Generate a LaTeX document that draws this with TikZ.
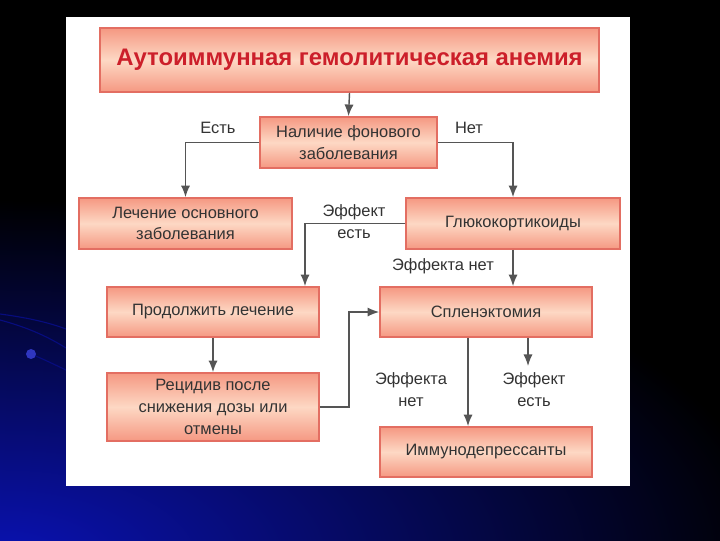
\documentclass[tikz,border=0pt]{standalone}
\usepackage{fontspec}
\setmainfont{Liberation Sans}
\usetikzlibrary{positioning,arrows.meta,calc}
\definecolor{boxborder}{HTML}{E36E62}
\definecolor{boxouter}{HTML}{F59882}
\definecolor{boxinner}{HTML}{FDD8C4}
\definecolor{titlered}{HTML}{CC1F2A}
\definecolor{txtgray}{HTML}{333333}
\definecolor{arrgray}{HTML}{555555}
\definecolor{bgblue}{HTML}{0A12B4}

\begin{document}
\begin{tikzpicture}[x=0.025cm,y=-0.025cm,font=\fontsize{11.7}{15.5}\selectfont,
  fbox/.style={draw=boxborder,line width=1.2pt,top color=boxouter,
    bottom color=boxouter,middle color=boxinner,align=center,
    text=txtgray,inner sep=2pt},
  lbl/.style={text=txtgray,align=center,inner sep=1pt},
  arr/.style={draw=arrgray,line width=1pt,-{Latex[length=2.9mm,width=2.3mm]}}]

% slide background
\useasboundingbox (0,0) rectangle (720,540);
\fill[black] (0,0) rectangle (720,540);
\begin{scope}
  \clip (0,0) rectangle (720,540);
  \shade[inner color=bgblue,outer color=black] (0,560) ellipse (780 and 360);
  \draw[bgblue!70!black,line width=0.8pt] (0,314) .. controls (30,318) and (50,323) .. (66,329);
  \draw[bgblue!70!black,line width=0.8pt] (0,320) .. controls (30,328) and (50,338) .. (66,348);
  \draw[bgblue!70!black,line width=0.8pt] (31,354) .. controls (45,360) .. (66,370);
  \fill[bgblue!85] (31,354) circle (5);
\end{scope}
\fill[white] (66,17) rectangle (630,486);

% boxes
\node[fbox,minimum width=12.475cm,minimum height=1.6cm,
      font=\fontsize{17}{20}\selectfont\bfseries,text=titlered]
      (title) at (349.5,60) {Аутоиммунная гемолитическая анемия};
\node[fbox,minimum width=4.425cm,minimum height=1.275cm]
      (nalich) at (348.5,142.5) {Наличие фонового\\заболевания};
\node[fbox,minimum width=5.325cm,minimum height=1.275cm]
      (lech) at (185.5,223.5) {Лечение основного\\заболевания};
\node[fbox,minimum width=5.35cm,minimum height=1.275cm]
      (gluko) at (513,223.5) {Глюкокортикоиды};
\node[fbox,minimum width=5.3cm,minimum height=1.25cm]
      (prodol) at (213,312) {Продолжить лечение};
\node[fbox,minimum width=5.3cm,minimum height=1.25cm]
      (splen) at (486,312) {Спленэктомия};
\node[fbox,minimum width=5.3cm,minimum height=1.7cm]
      (recid) at (213,407) {Рецидив после\\снижения дозы или\\отмены};
\node[fbox,minimum width=5.3cm,minimum height=1.25cm]
      (immun) at (486,452) {Иммунодепрессанты};

% labels
\node[lbl] (yes1) at (218,128) {Есть};
\node[lbl] (no1) at (469,128) {Нет};
\node[lbl] (eff1) at (354,222) {Эффект\\есть};
\node[lbl] (noeff1) at (443,266) {Эффекта нет};
\node[lbl] (noeff2) at (411,390) {Эффекта\\нет};
\node[lbl] (eff2) at (534,390) {Эффект\\есть};

\coordinate (effend) at (528,366);

% connectors
\draw[arr] (title.south) -- (nalich.north);
\draw[arr] (nalich.west) -| (lech.north);
\draw[arr] (nalich.east) -| (gluko.north);
\draw[arr] (gluko.west) -| ($(prodol.north)+(92,0)$);
\draw[arr] (gluko.south) -- (gluko.south |- splen.north);
\draw[arr] (prodol.south) -- (recid.north);
\draw[arr] (recid.east) -- ++(29,0) |- (splen.west);
\draw[arr] ($(splen.south)+(-18,0)$) -- ($(immun.north)+(-18,0)$);
\draw[arr] (splen.south -| effend) -- (effend);

\end{tikzpicture}
\end{document}
